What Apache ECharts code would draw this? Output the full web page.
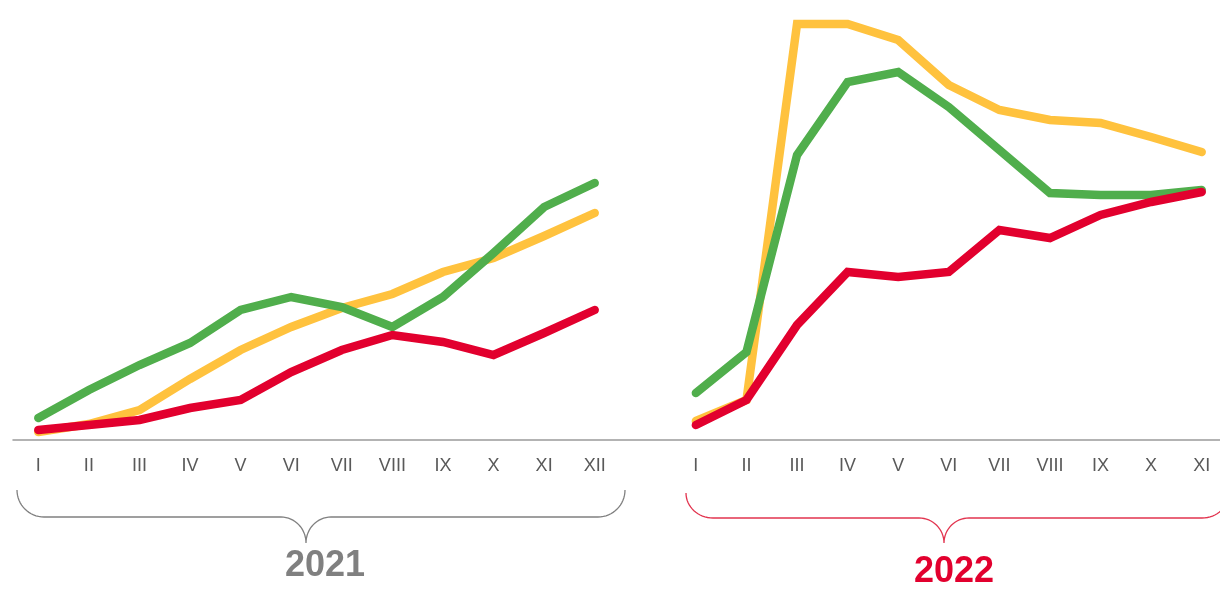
<!DOCTYPE html>
<html>
<head>
<meta charset="utf-8">
<script src="https://cdn.jsdelivr.net/npm/echarts@6/dist/echarts.min.js"></script>
<style>
html,body{margin:0;padding:0;background:#fff;}
#c{width:1220px;height:589px;}
</style>
</head>
<body>
<div id="c"></div>
<script>
// Month tick labels
const months2021 = ['I','II','III','IV','V','VI','VII','VIII','IX','X','XI','XII'];
const months2022 = ['I','II','III','IV','V','VI','VII','VIII','IX','X','XI'];

// Series values (arbitrary index units)
const yellow2021 = [8, 16, 30, 61, 90, 113, 132, 146, 168, 182, 204, 227];
const green2021  = [22, 50, 75, 97, 130, 143, 133, 113, 143, 187, 233, 257];
const red2021    = [10, 15, 20, 32, 40, 68, 90, 105, 98, 85, 107, 130];
const yellow2022 = [19, 40, 416, 416, 400, 355, 330, 320, 317, 303, 288];
const green2022  = [47, 88, 285, 358, 368, 333, 290, 247, 245, 245, 250];
const red2022    = [15, 40, 115, 168, 163, 168, 210, 202, 225, 238, 248];

const yearLabels = ['2021', '2022'];

const categories = months2021.concat(['']).concat(months2022);
const join = (a, b) => a.concat([null]).concat(b);

const chart = echarts.init(document.getElementById('c'), null, {renderer: 'canvas'});

function lineSeries(name, data, color) {
  return {
    name: name,
    type: 'line',
    data: data,
    symbol: 'none',
    showSymbol: false,
    connectNulls: false,
    lineStyle: {width: 8.5, color: color, cap: 'round', join: 'miter'},
    itemStyle: {color: color},
    animation: false
  };
}

// quarter-ellipse points from (ax,ay) to (bx,by) with corner at (cx,cy)
function corner(ax, ay, cx, cy, bx, by, n) {
  const pts = [];
  const k = 0.552;
  const p1x = ax + (cx - ax) * k, p1y = ay + (cy - ay) * k;
  const p2x = bx + (cx - bx) * k, p2y = by + (cy - by) * k;
  for (let i = 0; i <= n; i++) {
    const t = i / n;
    const u = 1 - t;
    const x = u*u*u*ax + 3*u*u*t*p1x + 3*u*t*t*p2x + t*t*t*bx;
    const y = u*u*u*ay + 3*u*u*t*p1y + 3*u*t*t*p2y + t*t*t*by;
    pts.push([x, y]);
  }
  return pts;
}

function brace(x0, x1, xc, y0, yh, yt, rx, rt, color) {
  let pts = [];
  pts = pts.concat(corner(x0, y0, x0, yh, x0 + rx, yh, 16));
  pts = pts.concat(corner(xc - rt, yh, xc, yh, xc, yt, 16));
  pts = pts.concat(corner(xc, yt, xc, yh, xc + rt, yh, 16));
  pts = pts.concat(corner(x1 - rx, yh, x1, yh, x1, y0, 16));
  return {
    type: 'polyline',
    shape: {points: pts},
    style: {fill: null, stroke: color, lineWidth: 1.3},
    silent: true,
    z: 10
  };
}

chart.setOption({
  animation: false,
  grid: {left: 13, width: 1214, top: 0, bottom: 149, containLabel: false, outerBoundsMode: 'none'},
  xAxis: {
    type: 'category',
    data: categories,
    boundaryGap: true,
    axisLine: {lineStyle: {color: '#9a9a9a', width: 1.5}},
    axisTick: {show: false},
    axisLabel: {
      interval: 0,
      color: '#595959',
      fontFamily: 'Liberation Sans, Arial, sans-serif',
      fontSize: 18,
      margin: 17
    },
    splitLine: {show: false}
  },
  yAxis: {
    type: 'value',
    min: 0,
    max: 440,
    show: false,
    splitLine: {show: false}
  },
  series: [
    lineSeries('yellow', join(yellow2021, yellow2022), '#FFC23E'),
    lineSeries('green', join(green2021, green2022), '#50AE4C'),
    lineSeries('red', join(red2021, red2022), '#E2002E')
  ],
  graphic: [
    brace(17, 625, 306, 490, 517, 543, 27, 25, '#808080'),
    brace(686, 1229, 944, 493, 518, 543, 27, 25, '#E2344F'),
    {
      type: 'text',
      left: 325 - 40, top: 548,
      style: {
        text: yearLabels[0], fill: '#808080',
        font: 'bold 36px "Liberation Sans", Arial, sans-serif'
      },
      silent: true
    },
    {
      type: 'text',
      left: 954 - 40, top: 554,
      style: {
        text: yearLabels[1], fill: '#E2002E',
        font: 'bold 36px "Liberation Sans", Arial, sans-serif'
      },
      silent: true
    }
  ]
});
</script>
</body>
</html>
